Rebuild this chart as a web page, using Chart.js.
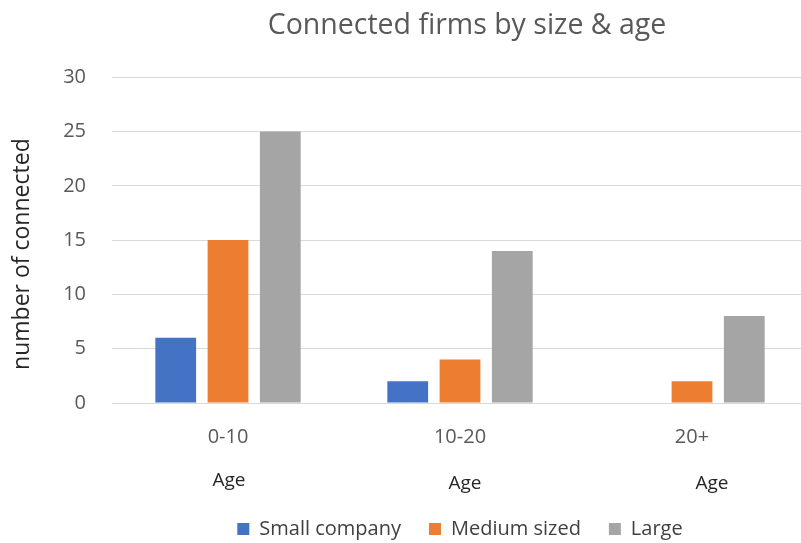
<!DOCTYPE html>
<html>
<head>
<meta charset="utf-8">
<script src="https://cdn.jsdelivr.net/npm/chart.js@4.4.0/dist/chart.umd.min.js"></script>
<style>
  html, body { margin: 0; padding: 0; background: #fff; overflow: hidden; }
  #wrap { width: 810px; height: 549px; }
</style>
</head>
<body>
<div id="wrap"><canvas id="chart"></canvas></div>
<script>
const categories = ['0-10', '10-20', '20+'];
const smallCompany = [6, 2, null];
const mediumSized = [15, 4, 2];
const large = [25, 14, 8];
const yTicks = [0, 5, 10, 15, 20, 25, 30];
const yTitle = 'number of connected';
const subLabel = 'Age';
const subLabelShift = [1, 5, 20];
const subLabelDrop = [78, 81, 81];

// excel centres title and legend over the plot area, not the whole canvas
const centreOnPlot = {
    id: 'centreOnPlot',
    afterLayout(chart) {
        const area = chart.chartArea;
        if (chart.legend) {
            chart.legend.left = area.left;
            chart.legend.right = area.right;
        }
        if (chart.titleBlock) {
            chart.titleBlock.left = area.left + 14;
            chart.titleBlock.right = area.right;
        }
    }
};

// axis texts that sit outside the usual chart.js boxes
const extraText = {
    id: 'extraText',
    afterDraw(chart) {
        const ctx = chart.ctx;
        const x = chart.scales.x;
        const area = chart.chartArea;
        ctx.save();
        ctx.font = '19px "Open Sans", sans-serif';
        ctx.fillStyle = '#262626';
        ctx.textAlign = 'center';
        ctx.textBaseline = 'middle';
        categories.forEach((c, i) => {
            const px = x.getPixelForValue(i) + subLabelShift[i];
            ctx.fillText(subLabel, px, area.bottom + subLabelDrop[i]);
        });
        // y axis title
        ctx.translate(22, (area.top + area.bottom) / 2 + 14);
        ctx.rotate(-Math.PI / 2);
        ctx.font = '23px "Open Sans", sans-serif';
        ctx.fillText(yTitle, 0, 0);
        ctx.restore();
    }
};

const ctx = document.getElementById('chart').getContext('2d');
new Chart(ctx, {
    type: 'bar',
    data: {
        labels: categories,
        datasets: [
            { label: 'Small company', data: smallCompany, backgroundColor: '#4472C4' },
            { label: 'Medium sized', data: mediumSized, backgroundColor: '#ED7D31' },
            { label: 'Large', data: large, backgroundColor: '#A5A5A5' }
        ]
    },
    options: {
        responsive: true,
        maintainAspectRatio: false,
        animation: false,
        datasets: { bar: { categoryPercentage: 0.676, barPercentage: 0.78 } },
        layout: { padding: { left: 0, right: 2, top: 0, bottom: 0 } },
        plugins: {
            title: {
                display: true,
                text: 'Connected firms by size & age',
                color: '#595959',
                font: { family: '"Open Sans", sans-serif', size: 28.5, weight: 'normal' },
                padding: { top: 9, bottom: 34 }
            },
            legend: {
                position: 'bottom',
                labels: {
                    boxWidth: 12,
                    boxHeight: 12,
                    color: '#404040',
                    font: { family: '"Open Sans", sans-serif', size: 20 },
                    padding: 28
                }
            },
            tooltip: { enabled: false }
        },
        scales: {
            x: {
                grid: { display: false },
                border: { display: false },
                ticks: {
                    color: '#595959',
                    font: { family: '"Open Sans", sans-serif', size: 20 },
                    padding: 14
                },
                afterFit(scale) { scale.height = 88; }
            },
            y: {
                min: 0,
                max: 30,
                afterBuildTicks(scale) { scale.ticks = yTicks.map(v => ({ value: v })); },
                afterFit(scale) { scale.width = 112; },
                grid: { color: '#D9D9D9', lineWidth: 1, drawTicks: false },
                border: { display: false },
                ticks: {
                    color: '#595959',
                    font: { family: '"Open Sans", sans-serif', size: 20 },
                    padding: 26
                }
            }
        }
    },
    plugins: [centreOnPlot, extraText]
});
</script>
</body>
</html>
